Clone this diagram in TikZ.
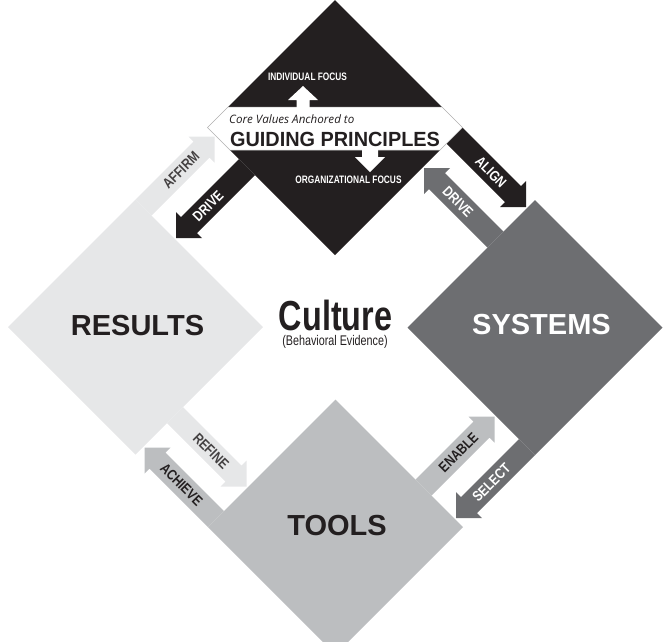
\documentclass[tikz,border=0pt]{standalone}
\usepackage{fontspec}
\setmainfont{Liberation Sans}
\newfontfamily\condfont[FakeStretch=0.77]{Liberation Sans}
\newfontfamily\labfont[FakeStretch=0.82]{Liberation Sans}
\newfontfamily\headfont[FakeStretch=0.97]{Liberation Sans}
\newfontfamily\corefont{Open Sans}
\definecolor{cblack}{HTML}{231F20}
\definecolor{clight}{HTML}{E6E7E8}
\definecolor{cmed}{HTML}{BCBEC0}
\definecolor{cdark}{HTML}{6D6E71}
\definecolor{ctext}{HTML}{231F20}
\definecolor{cline}{HTML}{BBBBBB}
\begin{document}
\begin{tikzpicture}[x=1pt,y=1pt,
  lab/.style={font=\labfont\bfseries\fontsize{14.5}{14.5}\selectfont, inner sep=0pt},
  big/.style={font=\bfseries\fontsize{29}{29}\selectfont, inner sep=0pt, anchor=base},
  focus/.style={font=\condfont\bfseries\fontsize{10.8}{10.8}\selectfont, text=white, inner sep=0pt, anchor=base},
  shape light/.style={fill=clight},
  shape black/.style={fill=cblack},
  shape dark/.style={fill=cdark},
  shape med/.style={fill=cmed}]
\useasboundingbox (0,0) rectangle (665,-641);
\clip (0,0) rectangle (665,-641);
% ---- rotated (u,v) frame: u = X-Y, v = X+Y (pixel coords, Y down)
\begin{scope}[x={(0.5pt,0.5pt)}, y={(0.5pt,-0.5pt)}]
  % diamonds
  \fill[shape light] (-319,335) -- (-64,335) -- (-64,590) -- (-319,590) -- cycle;
  \fill[shape black] (80,335) -- (335,335) -- (335,590) -- (80,590) -- cycle;
  \fill[shape dark]  (80,735) -- (335,735) -- (335,990) -- (80,990) -- cycle;
  \fill[shape med]   (-319,735) -- (-64,735) -- (-64,990) -- (-319,990) -- cycle;
  % AFFIRM (results -> guiding principles)
  \fill[shape light] (-64,335) -- (52,335) -- (52,325) -- (78,351) -- (52,377) -- (52,367) -- (-64,367) -- cycle;
  % DRIVE (guiding principles -> results)
  \fill[shape black] (80,398) -- (-36,398) -- (-36,388) -- (-62,414) -- (-36,440) -- (-36,430) -- (80,430) -- cycle;
  % ALIGN (guiding principles -> systems)
  \fill[shape black] (303,590) -- (303,707) -- (293,707) -- (319,733) -- (345,707) -- (335,707) -- (335,590) -- cycle;
  % DRIVE (systems -> guiding principles)
  \fill[shape dark] (240,735) -- (240,618) -- (230,618) -- (256,592) -- (282,618) -- (272,618) -- (272,735) -- cycle;
  % ENABLE (tools -> systems)
  \fill[shape med] (-64,895) -- (52,895) -- (52,885) -- (78,911) -- (52,937) -- (52,927) -- (-64,927) -- cycle;
  % SELECT (systems -> tools)
  \fill[shape dark] (80,958) -- (-36,958) -- (-36,948) -- (-62,974) -- (-36,1000) -- (-36,990) -- (80,990) -- cycle;
  % REFINE (results -> tools)
  \fill[shape light] (-256,590) -- (-256,707) -- (-266,707) -- (-240,733) -- (-214,707) -- (-224,707) -- (-224,590) -- cycle;
  % ACHIEVE (tools -> results)
  \fill[shape med] (-319,735) -- (-319,618) -- (-329,618) -- (-303,592) -- (-277,618) -- (-287,618) -- (-287,735) -- cycle;
  % arrow labels
  \node[lab, rotate=45, text=ctext!85] (affirm) at (11,351) {AFFIRM};
  \node[lab, rotate=45, text=white] (driveL) at (2,414) {DRIVE};
  \node[lab, rotate=-45, text=white] (align) at (319,663) {ALIGN};
  \node[lab, rotate=-45, text=white] (driveR) at (256,660) {DRIVE};
  \node[lab, rotate=45, text=ctext] (enable) at (6,911) {ENABLE};
  \node[lab, rotate=45, text=white] (select) at (9,974) {SELECT};
  \node[lab, rotate=-45, text=ctext!85] (refine) at (-240,662) {REFINE};
  \node[lab, rotate=-45, text=ctext] (achieve) at (-303,666) {ACHIEVE};
\end{scope}
% ---- guiding principles band
\filldraw[fill=white, draw=cline, line width=0.5pt]
  (228,-107) -- (442,-107) -- (462.5,-127.5) -- (440,-150) -- (230,-150) -- (207.5,-127.5) -- cycle;
% small white arrows
\fill[white] (296.5,-108) -- (296.5,-100) -- (288,-100) -- (303,-86) -- (318,-100) -- (309.5,-100) -- (309.5,-108) -- cycle;
\fill[white] (362,-149) -- (362,-157) -- (355,-157) -- (370,-172) -- (385,-157) -- (378,-157) -- (378,-149) -- cycle;
% texts
\node[focus] (indiv) at (307.5,-80.7) {INDIVIDUAL FOCUS};
\node[focus] (org) at (348.5,-183.3) {ORGANIZATIONAL FOCUS};
\node[font=\corefont\itshape\fontsize{11.6}{11.6}\selectfont, text=ctext, inner sep=0pt, anchor=base west] (core) at (229,-123.3) {Core Values Anchored to};
\node[font=\headfont\bfseries\fontsize{20.5}{20.5}\selectfont, text=ctext, inner sep=0pt, anchor=base] (gp) at (335,-146.7) {GUIDING PRINCIPLES};
\node[big, text=ctext] (results) at (137.5,-335) {RESULTS};
\node[big, text=white] (systems) at (541.5,-334) {SYSTEMS};
\node[big, text=ctext] (tools) at (337,-535) {TOOLS};
\node[font=\condfont\bfseries\fontsize{42}{42}\selectfont, text=ctext, inner sep=0pt, anchor=base] (culture) at (335.5,-330) {Culture};
\node[font=\condfont\fontsize{14}{14}\selectfont, text=ctext, inner sep=0pt, anchor=base] (behav) at (335,-345.5) {(Behavioral Evidence)};
\end{tikzpicture}
\end{document}
